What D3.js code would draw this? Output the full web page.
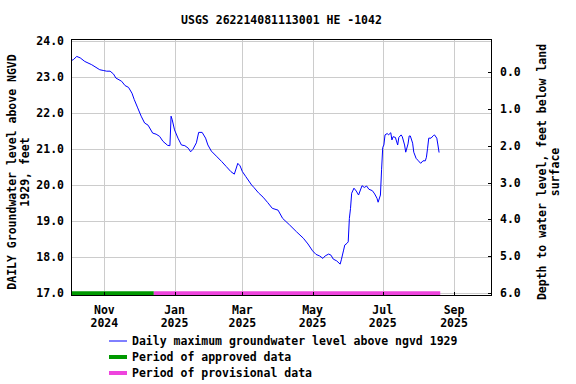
<!DOCTYPE html>
<meta charset="utf-8">
<head>
<style>
body { margin: 0; background: #fff; }
svg text { font-family: "DejaVu Sans Mono", monospace; font-weight: bold; font-size: 11.5px; fill: #000; }
</style>
<script src="https://d3js.org/d3.v7.min.js"></script>
</head>
<body>
<div id="chart"></div>
<script>
var title = "USGS 262214081113001 HE -1042";

// daily maximum level, feet above NGVD 1929
var dates = ["2024-10-03","2024-10-05","2024-10-08","2024-10-11","2024-10-15","2024-10-21","2024-10-28","2024-10-31",
  "2024-11-03","2024-11-06","2024-11-09","2024-11-11","2024-11-16","2024-11-19","2024-11-22","2024-11-25","2024-11-27","2024-11-30",
  "2024-12-03","2024-12-06","2024-12-09","2024-12-13","2024-12-16","2024-12-19","2024-12-22","2024-12-26","2024-12-28","2024-12-29","2024-12-30",
  "2025-01-01","2025-01-04","2025-01-07","2025-01-10","2025-01-13","2025-01-15","2025-01-17","2025-01-20","2025-01-22","2025-01-25","2025-01-28","2025-01-30",
  "2025-02-02","2025-02-07","2025-02-11","2025-02-15","2025-02-19","2025-02-22","2025-02-25","2025-02-27",
  "2025-03-01","2025-03-04","2025-03-09","2025-03-11","2025-03-15","2025-03-19","2025-03-23","2025-03-27",
  "2025-04-01","2025-04-05","2025-04-11","2025-04-17","2025-04-23","2025-04-27",
  "2025-05-01","2025-05-04","2025-05-07","2025-05-10","2025-05-12","2025-05-15","2025-05-17","2025-05-19","2025-05-22","2025-05-25","2025-05-26","2025-05-28","2025-05-29","2025-05-31",
  "2025-06-01","2025-06-02","2025-06-03","2025-06-04","2025-06-06","2025-06-08","2025-06-10","2025-06-13","2025-06-15","2025-06-17","2025-06-19","2025-06-22","2025-06-24","2025-06-26","2025-06-27","2025-06-29","2025-06-30",
  "2025-07-01","2025-07-02","2025-07-03","2025-07-05","2025-07-06","2025-07-08","2025-07-09","2025-07-10","2025-07-12","2025-07-14","2025-07-15","2025-07-17","2025-07-18","2025-07-20","2025-07-21","2025-07-23","2025-07-24","2025-07-25","2025-07-27","2025-07-28","2025-07-30",
  "2025-08-01","2025-08-03","2025-08-05","2025-08-07","2025-08-08","2025-08-09","2025-08-10","2025-08-12","2025-08-14","2025-08-15","2025-08-17","2025-08-18","2025-08-19"];
var levels = [23.46,23.49,23.58,23.54,23.44,23.35,23.21,23.19,
  23.17,23.17,23.09,22.98,22.89,22.77,22.72,22.56,22.38,22.15,
  21.92,21.73,21.67,21.45,21.42,21.36,21.22,21.11,21.10,21.92,21.82,
  21.54,21.31,21.12,21.10,21.03,20.93,21.00,21.18,21.47,21.47,21.31,21.12,
  20.95,20.79,20.66,20.52,20.38,20.31,20.61,20.54,
  20.38,20.24,20.01,19.94,19.79,19.67,19.52,19.36,
  19.31,19.08,18.90,18.71,18.53,18.37,
  18.18,18.08,18.04,17.97,18.04,18.09,18.06,17.95,17.90,17.81,17.93,18.20,18.34,18.39,
  18.43,19.08,19.36,19.78,19.92,19.84,19.73,19.99,19.94,19.98,19.89,19.85,19.76,19.64,19.53,19.73,20.43,
  21.05,21.12,21.40,21.44,21.40,21.46,21.26,21.35,21.33,21.12,21.33,21.40,21.35,21.12,20.92,21.15,21.37,21.37,21.17,20.92,20.75,
  20.68,20.61,20.68,20.68,20.78,21.03,21.31,21.31,21.38,21.40,21.31,21.12,20.91];

var approvedPeriod = ["2024-10-03", "2024-12-14"];
var provisionalPeriod = ["2024-12-14", "2025-08-20"];

var leftTicks = [17, 18, 19, 20, 21, 22, 23, 24];
var rightTicks = [0, 1, 2, 3, 4, 5, 6];
var legendLabels = ["Daily maximum groundwater level above ngvd 1929", "Period of approved data", "Period of provisional data"];

var width = 576, height = 384;
var margin = {top: 39, right: 84, bottom: 88, left: 71};
var parse = d3.utcParse("%Y-%m-%d");

var x = d3.scaleUtc()
    .domain([parse("2024-10-03"), parse("2025-10-04")])
    .range([margin.left, width - margin.right]);
var y = d3.scaleLinear()
    .domain([16.925, 24.064])
    .range([height - margin.bottom, margin.top]);
var yRight = d3.scaleLinear()
    .domain([-0.907, 6.09])
    .range([margin.top, height - margin.bottom]);

var svg = d3.select("#chart").append("svg")
    .attr("width", width)
    .attr("height", height);

var monthTicks = d3.utcMonth.every(2).range(x.domain()[0], x.domain()[1]);

// grid
svg.append("g").selectAll("line").data(monthTicks).join("line")
    .attr("x1", d => Math.round(x(d)) + 0.5).attr("x2", d => Math.round(x(d)) + 0.5)
    .attr("y1", margin.top).attr("y2", height - margin.bottom)
    .attr("stroke", "#cccccc");
svg.append("g").selectAll("line").data(leftTicks).join("line")
    .attr("x1", margin.left).attr("x2", width - margin.right)
    .attr("y1", d => Math.round(y(d)) + 0.5).attr("y2", d => Math.round(y(d)) + 0.5)
    .attr("stroke", "#cccccc");

// period bars
var barY = y(17);
svg.append("line")
    .attr("x1", x(parse(approvedPeriod[0]))).attr("x2", x(parse(approvedPeriod[1])))
    .attr("y1", barY).attr("y2", barY)
    .attr("stroke", "#009900").attr("stroke-width", 4);
svg.append("line")
    .attr("x1", x(parse(provisionalPeriod[0]))).attr("x2", x(parse(provisionalPeriod[1])))
    .attr("y1", barY).attr("y2", barY)
    .attr("stroke", "#ee44dd").attr("stroke-width", 4);

// data line
var line = d3.line()
    .x(function(d, i) { return x(parse(dates[i])); })
    .y(function(d) { return y(d); });
svg.append("path")
    .datum(levels)
    .attr("d", line)
    .attr("fill", "none")
    .attr("stroke", "#0000ff")
    .attr("stroke-width", 1);

// frame
svg.append("rect")
    .attr("x", margin.left + 0.5).attr("y", margin.top + 0.5)
    .attr("width", width - margin.right - margin.left - 1)
    .attr("height", height - margin.bottom - margin.top - 1)
    .attr("fill", "none").attr("stroke", "#000");

// left axis
var gl = svg.append("g");
gl.selectAll("text").data(leftTicks).join("text")
    .attr("x", margin.left - 7).attr("y", d => y(d) + 4)
    .attr("text-anchor", "end")
    .text(d => d.toFixed(1));

// right axis, ticks point inward
var rx = width - margin.right;
var gr = svg.append("g");
gr.selectAll("line").data(rightTicks).join("line")
    .attr("x1", rx - 4).attr("x2", rx)
    .attr("y1", d => Math.round(yRight(d)) + 0.5).attr("y2", d => Math.round(yRight(d)) + 0.5)
    .attr("stroke", "#000");
gr.selectAll("text").data(rightTicks).join("text")
    .attr("x", rx + 8).attr("y", d => yRight(d) + 4)
    .text(d => d.toFixed(1));

// bottom axis
var fmtMonth = d3.utcFormat("%b"), fmtYear = d3.utcFormat("%Y");
var gb = svg.append("g");
gb.selectAll("line").data(monthTicks).join("line")
    .attr("x1", d => Math.round(x(d)) + 0.5).attr("x2", d => Math.round(x(d)) + 0.5)
    .attr("y1", height - margin.bottom - 4).attr("y2", height - margin.bottom)
    .attr("stroke", "#000");
var lab = gb.selectAll("text").data(monthTicks).join("text")
    .attr("text-anchor", "middle");
lab.append("tspan").attr("x", d => x(d)).attr("y", 314).text(d => fmtMonth(d));
lab.append("tspan").attr("x", d => x(d)).attr("y", 327).text(d => fmtYear(d));

// title
svg.append("text")
    .attr("x", (margin.left + width - margin.right) / 2).attr("y", 24)
    .attr("text-anchor", "middle")
    .text(title);

// axis titles
var lt = svg.append("text")
    .attr("transform", "translate(16,172) rotate(-90)")
    .attr("text-anchor", "middle");
lt.append("tspan").attr("x", 0).attr("y", 0).text("DAILY Groundwater level above NGVD");
lt.append("tspan").attr("x", 0).attr("y", 13).text("1929, feet");

var rt = svg.append("text")
    .attr("transform", "translate(546,172) rotate(-90)")
    .attr("text-anchor", "middle");
rt.append("tspan").attr("x", 0).attr("y", 0).text("Depth to water level, feet below land");
rt.append("tspan").attr("x", 0).attr("y", 13).text("surface");

// legend
var legendColors = ["#0000ff", "#009900", "#ee44dd"];
var legendWidths = [1, 4, 4];
var lg = svg.append("g").selectAll("g").data(legendLabels).join("g")
    .attr("transform", function(d, i) { return "translate(109," + (341 + i * 16) + ")"; });
lg.append("line")
    .attr("x1", 0).attr("x2", 18).attr("y1", 0).attr("y2", 0)
    .attr("stroke", (d, i) => legendColors[i])
    .attr("stroke-width", (d, i) => legendWidths[i]);
lg.append("text")
    .attr("x", 23).attr("y", 4)
    .text(d => d);
</script>
</body>
